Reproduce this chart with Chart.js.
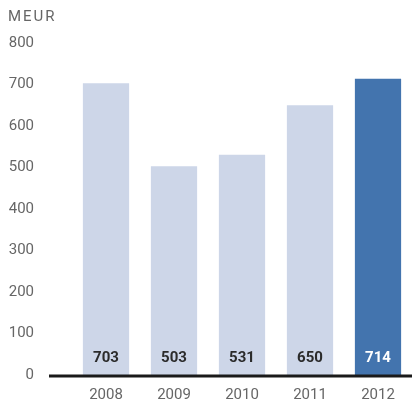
<!DOCTYPE html>
<html>
<head>
<meta charset="utf-8">
<script src="https://cdn.jsdelivr.net/npm/chart.js@4/dist/chart.umd.min.js"></script>
<style>
  html, body { margin: 0; padding: 0; background: #fff; }
  #wrap { width: 412px; height: 407px; position: relative; }
</style>
</head>
<body>
<div id="wrap"><canvas id="grafico"></canvas></div>
<script>
// Datos del gráfico
const years = ['2008', '2009', '2010', '2011', '2012'];
const values = [703, 503, 531, 650, 714];
const yTicks = [0, 100, 200, 300, 400, 500, 600, 700, 800];
const unitLabel = 'MEUR';

const colors = {
    light: '#cdd6e8',
    dark: '#4374ae',
    text: '#666666',
    label: '#2b2b2b',
    axis: '#1a1a1a'
};

const barColors = years.map((_, i) => i === years.length - 1 ? colors.dark : colors.light);
const labelColors = years.map((_, i) => i === years.length - 1 ? '#ffffff' : colors.label);

// Etiquetas de valor dentro de las barras, línea base y unidad
const extras = {
    id: 'extras',
    afterDatasetsDraw(chart) {
        const ctx = chart.ctx;
        const area = chart.chartArea;
        ctx.save();
        ctx.strokeStyle = colors.axis;
        ctx.lineWidth = 3;
        ctx.beginPath();
        ctx.moveTo(49, area.bottom + 1);
        ctx.lineTo(412, area.bottom + 1);
        ctx.stroke();

        ctx.font = 'bold 15px Roboto, sans-serif';
        ctx.textAlign = 'center';
        ctx.textBaseline = 'middle';
        chart.getDatasetMeta(0).data.forEach((bar, i) => {
            ctx.fillStyle = labelColors[i];
            ctx.fillText(String(values[i]), bar.x, area.bottom - 17);
        });

        ctx.fillStyle = colors.text;
        ctx.font = '15px Roboto, sans-serif';
        ctx.textAlign = 'left';
        ctx.letterSpacing = '2px';
        ctx.fillText(unitLabel, 8, 17);
        ctx.restore();
    }
};

new Chart(document.getElementById('grafico'), {
    type: 'bar',
    data: {
        labels: years,
        datasets: [{
            data: values,
            backgroundColor: barColors,
            borderWidth: 0,
            barPercentage: 0.68,
            categoryPercentage: 1
        }]
    },
    options: {
        responsive: true,
        maintainAspectRatio: false,
        animation: false,
        layout: { padding: { top: 43, right: 0, left: 0, bottom: 0 } },
        plugins: {
            legend: { display: false },
            tooltip: { enabled: false }
        },
        scales: {
            x: {
                afterFit(axis) { axis.height = 32; },
                grid: { display: false, drawTicks: false },
                border: { display: false },
                ticks: { color: colors.text, font: { size: 15, family: 'Roboto' }, padding: 11 }
            },
            y: {
                min: 0,
                max: 800,
                afterBuildTicks(axis) {
                    axis.ticks = yTicks.map(v => ({ value: v }));
                },
                afterFit(axis) {
                    axis.width = 72;
                    axis.paddingTop = 0;
                    axis.paddingBottom = 0;
                },
                grid: { display: false, drawTicks: false },
                border: { display: false },
                ticks: { color: colors.text, font: { size: 15, family: 'Roboto' }, padding: 38 }
            }
        }
    },
    plugins: [extras]
});
</script>
</body>
</html>
